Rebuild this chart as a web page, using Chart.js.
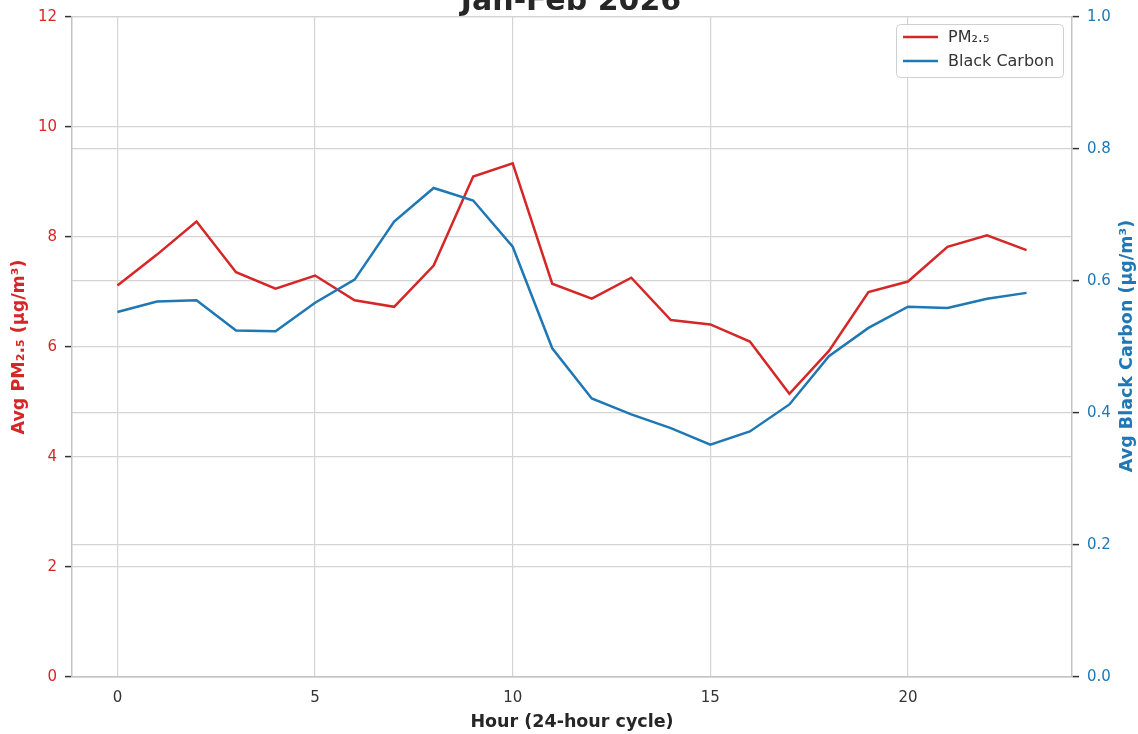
<!DOCTYPE html>
<html><head><meta charset="utf-8">
<script src="https://cdn.jsdelivr.net/npm/chart.js@4.4.0/dist/chart.umd.min.js"></script>
<style>html,body{margin:0;padding:0;background:#fff;overflow:hidden}#wrap{width:1138px;height:734px;position:relative}</style>
</head><body><div id="wrap"><canvas id="c" width="1138" height="734"></canvas></div>
<script>
const hours = [0,1,2,3,4,5,6,7,8,9,10,11,12,13,14,15,16,17,18,19,20,21,22,23];
const pm25 = [7.12,7.68,8.28,7.36,7.06,7.30,6.85,6.73,7.48,9.10,9.34,7.15,6.88,7.26,6.49,6.41,6.10,5.15,5.93,7.00,7.19,7.82,8.03,7.76];
const blackCarbon = [0.553,0.569,0.571,0.525,0.524,0.567,0.602,0.690,0.741,0.722,0.652,0.498,0.422,0.398,0.377,0.352,0.372,0.413,0.486,0.529,0.561,0.559,0.573,0.582];
const xTicks = [0,5,10,15,20];
const leftTicks = [0,2,4,6,8,10,12];
const rightTicks = [0,0.2,0.4,0.6,0.8,1.0];
const titleText = 'Jan-Feb 2026';
const seriesLabels = ['PM₂.₅','Black Carbon'];
const xTitle = 'Hour (24-hour cycle)';
const leftTitle = 'Avg PM₂.₅ (µg/m³)';
const rightTitle = 'Avg Black Carbon (µg/m³)';

const RED = '#d62728', BLUE = '#1f77b4';
const FONT = "'DejaVu Sans', sans-serif";
const GRID = '#d4d4d4', SPINE = '#c4c4c4';

const overlay = {
  id: 'overlay',
  afterDraw(chart) {
    const ctx = chart.ctx;
    ctx.save();
    // title (clipped at top as in reference)
    ctx.fillStyle = '#262626';
    ctx.font = "bold 30px " + FONT;
    ctx.textAlign = 'center';
    ctx.textBaseline = 'alphabetic';
    ctx.fillText(titleText, 571, 10);
    // right axis title
    ctx.save();
    ctx.translate(1127, 346);
    ctx.rotate(-Math.PI/2);
    ctx.font = "bold 17.5px " + FONT;
    ctx.fillStyle = BLUE;
    ctx.textAlign = 'center';
    ctx.textBaseline = 'middle';
    ctx.fillText(rightTitle, 0, 0);
    ctx.restore();
    // legend
    ctx.beginPath();
    ctx.roundRect(896.5, 24.5, 167, 53, 4);
    ctx.fillStyle = 'rgba(255,255,255,0.85)';
    ctx.fill();
    ctx.strokeStyle = '#d0d0d0';
    ctx.lineWidth = 1;
    ctx.stroke();
    const items = [[seriesLabels[0], RED, 37],[seriesLabels[1], BLUE, 61]];
    ctx.font = "16px " + FONT;
    ctx.textAlign = 'left';
    ctx.textBaseline = 'middle';
    for (const [t,c,y] of items) {
      ctx.beginPath();
      ctx.moveTo(903, y); ctx.lineTo(938, y);
      ctx.strokeStyle = c; ctx.lineWidth = 2.5; ctx.stroke();
      ctx.fillStyle = '#333333';
      ctx.fillText(t, 948, y + 1);
    }
    ctx.restore();
  }
};

new Chart(document.getElementById('c'), {
  type: 'line',
  data: {
    datasets: [
      { label: seriesLabels[0], data: hours.map((h,i)=>({x:h,y:pm25[i]})), yAxisID: 'y',
        borderColor: RED, backgroundColor: RED, borderWidth: 2.5, pointRadius: 0, tension: 0, order: 1 },
      { label: seriesLabels[1], data: hours.map((h,i)=>({x:h,y:blackCarbon[i]})), yAxisID: 'y1',
        borderColor: BLUE, backgroundColor: BLUE, borderWidth: 2.5, pointRadius: 0, tension: 0, order: 0 }
    ]
  },
  options: {
    responsive: false, animation: false, devicePixelRatio: 1,
    layout: { padding: 0 },
    plugins: { legend: { display: false }, tooltip: { enabled: false } },
    scales: {
      x: {
        type: 'linear', min: -1.15, max: 24.15,
        afterBuildTicks: s => { s.ticks = xTicks.map(v => ({ value: v })); },
        afterFit: s => { s.height = 57; },
        ticks: { color: '#333333', font: { family: FONT, size: 15 }, padding: 12 },
        grid: { color: GRID, lineWidth: 1.2, drawTicks: false },
        border: { color: SPINE, width: 1.5 },
        title: { display: true, text: xTitle, color: '#262626', font: { family: FONT, size: 17.5, weight: 'bold' }, padding: { top: 0, bottom: 1.5 } }
      },
      y: {
        position: 'left', min: 0, max: 12,
        afterBuildTicks: s => { s.ticks = leftTicks.map(v => ({ value: v })); },
        afterFit: s => { s.width = 72; },
        ticks: { color: RED, font: { family: FONT, size: 15 }, padding: 8 },
        grid: { color: GRID, lineWidth: 1.2, tickLength: 7, tickColor: '#333333', tickWidth: 1.5 },
        border: { color: SPINE, width: 1.5 },
        title: { display: true, text: leftTitle, color: RED, font: { family: FONT, size: 17.5, weight: 'bold' }, padding: { top: 9, bottom: 0 } }
      },
      y1: {
        position: 'right', min: 0, max: 1,
        afterBuildTicks: s => { s.ticks = rightTicks.map(v => ({ value: v })); },
        afterFit: s => { s.width = 66; },
        ticks: { color: BLUE, font: { family: FONT, size: 15 }, padding: 8, callback: v => Number(v).toFixed(1) },
        grid: { color: GRID, lineWidth: 1.2, tickLength: 7, tickColor: '#333333', tickWidth: 1.5 },
        border: { color: SPINE, width: 1.5 }
      }
    }
  },
  plugins: [overlay]
});
</script></body></html>
